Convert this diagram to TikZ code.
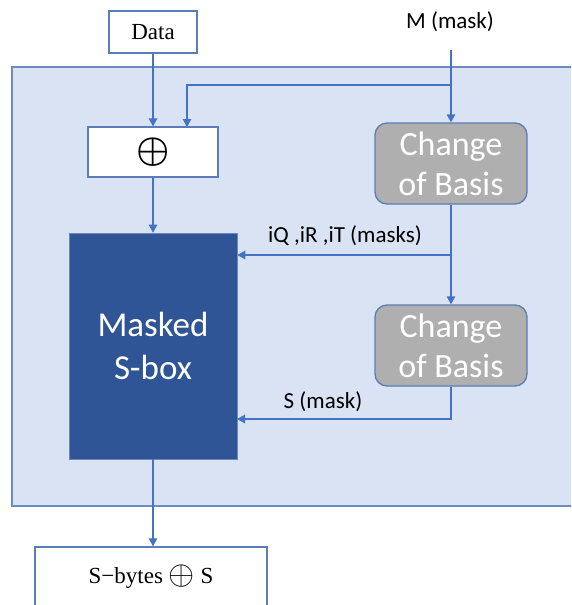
\documentclass[tikz,border=0pt]{standalone}
\usepackage{fontspec}
\setmainfont{Liberation Serif}
\newfontfamily\labelfont{Carlito}
\usetikzlibrary{arrows.meta,positioning}

\definecolor{panelfill}{HTML}{DAE3F3}
\definecolor{panelline}{HTML}{6E8BC0}
\definecolor{wire}{HTML}{4472C4}
\definecolor{sboxfill}{HTML}{2F5597}
\definecolor{basisfill}{HTML}{AFAFAF}
\definecolor{basisline}{HTML}{5B7DB5}
\definecolor{boxline}{HTML}{5A7DBA}

\newcommand{\xorbig}{\scalebox{1.5}{\boldmath$\oplus$}}
\newcommand{\xorinline}{\raisebox{-1pt}{\scalebox{1.35}{$\oplus$}}}

\tikzset{
  arr/.style={draw=wire, line width=1.3pt, -{Triangle[length=8pt,width=8.5pt]}},
  wirebox/.style={draw=boxline, fill=white, line width=1.2pt, inner sep=0pt,
    font=\fontsize{23}{26}\selectfont},
  basis/.style={draw=basisline, fill=basisfill, line width=1.3pt, rounded corners=12pt,
    minimum width=152pt, minimum height=81pt, inner sep=0pt, align=center,
    text=white, font=\labelfont\fontsize{34}{40}\selectfont},
  lbl/.style={font=\labelfont\fontsize{23}{26}\selectfont, inner sep=0pt, text=black},
}

\begin{document}
\begin{tikzpicture}[x=1pt, y=-1pt]
\useasboundingbox (0,0) rectangle (571,605);
\clip (0,0) rectangle (571,605);

% enclosing panel
\fill[panelfill] (12,67) rectangle (580,506);
\draw[panelline, line width=1.4pt] (580,67) -- (12,67) -- (12,506) -- (580,506);

% blocks
\node[wirebox, minimum width=88pt, minimum height=42pt] (data) at (153,32) {Data};
\node[lbl] (m) at (450,22) {M (mask)};
\node[wirebox, minimum width=130pt, minimum height=50pt] (xor) at (153,152) {\xorbig};
\node[fill=sboxfill, draw=sboxfill!70!white, line width=0.6pt, minimum width=168pt,
      minimum height=226pt, inner sep=0pt, align=center, text=white,
      font=\labelfont\fontsize{35}{43}\selectfont] (sbox) at (153,346) {Masked\\S-box};
\node[basis] (cb1) at (451,163.5) {Change\\of Basis};
\node[basis] (cb2) at (451,345.5) {Change\\of Basis};
\node[wirebox, minimum width=232pt, minimum height=60pt] (out) at (151,577)
      {S−bytes \xorinline\ S};

% wiring points
\coordinate (mtop) at (451,50);
\coordinate (mfork) at (451,85);
\coordinate (xin) at (187,127);
\coordinate (qfork) at (451,255);
\coordinate (sin) at (237,419);

% connectors
\draw[arr] (data) -- (xor);
\draw[arr] (mtop) -- (cb1);
\draw[arr] (mfork) -| (xin);
\draw[arr] (xor) -- (sbox);
\draw[arr] (cb1) -- (cb2);
\draw[arr] (qfork) -- (sbox.east |- qfork);
\draw[arr] (cb2.south) |- (sin);
\draw[arr] (sbox.south) -- (sbox.south |- out.north);

% connector labels
\node[lbl] (qlbl) at (345,236) {iQ ,iR ,iT (masks)};
\node[lbl] (slbl) at (323,402) {S (mask)};
\end{tikzpicture}
\end{document}
